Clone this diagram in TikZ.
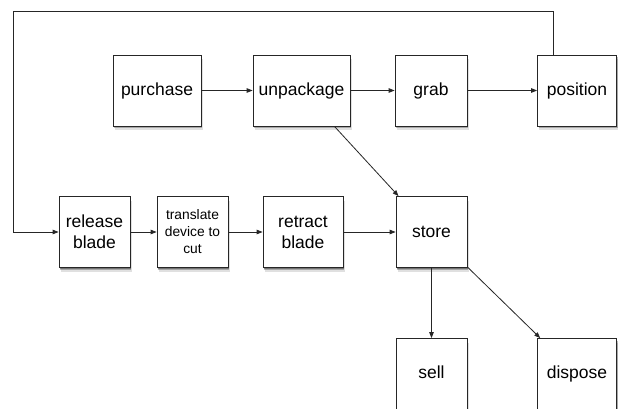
\documentclass[tikz,border=0pt]{standalone}
\usepackage{fontspec}
\setmainfont{Liberation Sans}
\usetikzlibrary{arrows.meta,shadows}
\begin{document}
\begin{tikzpicture}[x=1pt,y=-1pt,
  box/.style={draw=black!85, line width=0.8pt, fill=white, inner sep=0pt,
    align=center, minimum height=71pt, font=\fontsize{17.5}{21}\selectfont,
    drop shadow={shadow xshift=1.5pt, shadow yshift=-4pt, opacity=0.12, fill=black},
    drop shadow={shadow xshift=1pt, shadow yshift=-2.5pt, opacity=0.25, fill=black},
    drop shadow={shadow xshift=0.5pt, shadow yshift=-1.2pt, opacity=0.3, fill=black}},
  small/.style={font=\fontsize{13.8}{17}\selectfont},
  conn/.style={draw=black!85, line width=0.8pt, -{Triangle[length=6pt,width=4.5pt]}}]
\useasboundingbox (0,0) rectangle (621,409);
\fill[white] (0,0) rectangle (621,409);
% top row
\node[box, minimum width=88pt] (purchase) at (157,90.5) {purchase};
\node[box, minimum width=97pt] (unpackage) at (301.5,90.5) {unpackage};
\node[box, minimum width=72pt] (grab) at (431,90.5) {grab};
\node[box, minimum width=79pt] (position) at (577,90.5) {position};
% middle row
\node[box, minimum width=71pt] (release) at (94.5,232) {release\\blade};
\node[box, small, minimum width=71pt] (translate) at (192.5,232) {translate\\device to\\cut};
\node[box, minimum width=80pt] (retract) at (303,232) {retract\\blade};
\node[box, minimum width=71pt] (store) at (431.5,232) {store};
% bottom row
\node[box, minimum width=71pt] (sell) at (431.5,374) {\strut sell};
\node[box, minimum width=79pt] (dispose) at (577,374) {\strut dispose};
% connectors
\draw[conn] (purchase) -- (unpackage);
\draw[conn] (unpackage) -- (grab);
\draw[conn] (grab) -- (position);
\draw[conn] (release) -- (translate);
\draw[conn] (translate) -- (retract);
\draw[conn] (retract) -- (store);
\draw[conn] (unpackage) -- (store);
\draw[conn] (store) -- (sell);
\draw[conn] (store) -- (dispose);
\coordinate (tr) at (553,11);
\coordinate (tl) at (13,11);
\draw[conn] (tr |- position.north) -- (tr) -- (tl) |- (release.west);
\end{tikzpicture}
\end{document}
